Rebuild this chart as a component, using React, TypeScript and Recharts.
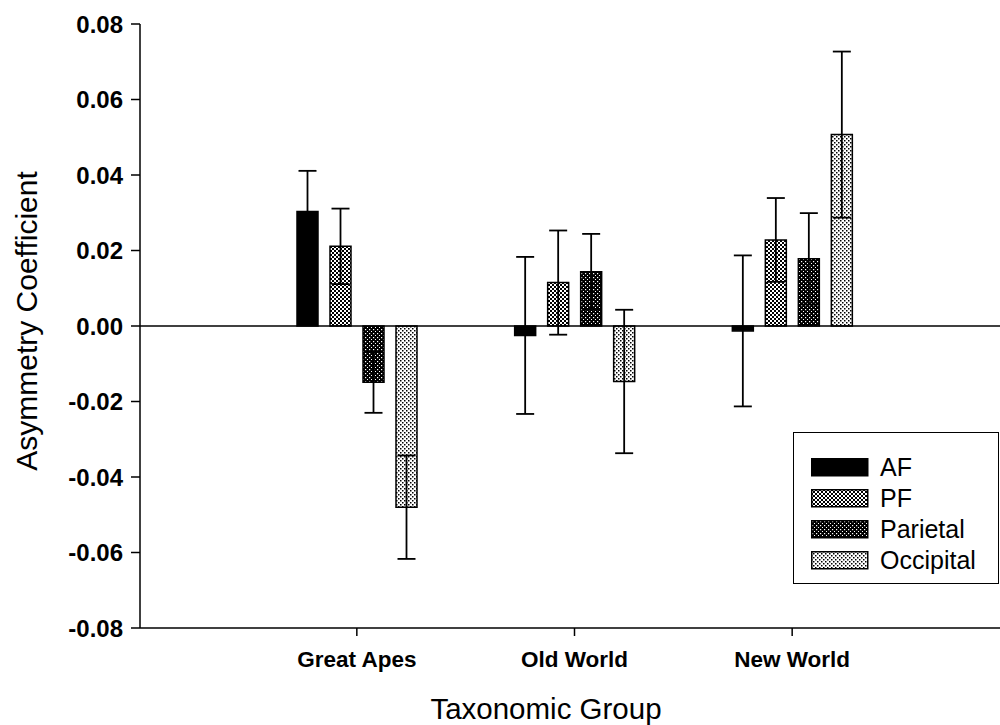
import React from 'react';
import { BarChart, Bar, XAxis, YAxis, ReferenceLine, ErrorBar } from 'recharts';

const groups = ['Great Apes', 'Old World', 'New World'];
const afMean = [0.0303, -0.0025, -0.0013];
const afErr = [0.0108, 0.0208, 0.02];
const pfMean = [0.0211, 0.0115, 0.0228];
const pfErr = [0.01, 0.0138, 0.0111];
const parMean = [-0.0149, 0.0144, 0.0178];
const parErr = [0.0081, 0.01, 0.0121];
const occMean = [-0.048, -0.0147, 0.0507];
const occErr = [0.0137, 0.019, 0.022];
const yTicks = [-0.08, -0.06, -0.04, -0.02, 0, 0.02, 0.04, 0.06, 0.08];

const seriesNames = ['AF', 'PF', 'Parietal', 'Occipital'];
const seriesFills = ['#000', 'url(#patPF)', 'url(#patPar)', 'url(#patOcc)'];

const data = groups.map((g, i) => ({
  group: g,
  AF: afMean[i],
  AFe: afErr[i],
  PF: pfMean[i],
  PFe: pfErr[i],
  Parietal: parMean[i],
  Parietale: parErr[i],
  Occipital: occMean[i],
  Occipitale: occErr[i],
}));

const FONT = '"Liberation Sans", Arial, sans-serif';

const Patterns = ({ suffix = '' }: { suffix?: string }) => (
  <defs>
    <pattern id={'patPF' + suffix} width="4" height="4" patternUnits="userSpaceOnUse">
      <rect width="4" height="4" fill="#fff" />
      <rect x="0" y="0" width="2" height="2" fill="#000" />
      <rect x="2" y="2" width="2" height="2" fill="#000" />
    </pattern>
    <pattern id={'patPar' + suffix} width="4" height="4" patternUnits="userSpaceOnUse">
      <rect width="4" height="4" fill="#000" />
      <rect x="1" y="1" width="1.2" height="1.2" fill="#fff" />
      <rect x="3" y="3" width="1" height="1" fill="#fff" />
    </pattern>
    <pattern id={'patOcc' + suffix} width="4" height="4" patternUnits="userSpaceOnUse">
      <rect width="4" height="4" fill="#fff" />
      <rect x="0" y="0" width="1.5" height="1.5" fill="#000" />
      <rect x="2" y="2" width="1.5" height="1.5" fill="#000" />
    </pattern>
  </defs>
);

const legendFills = ['#000', 'url(#patPFL)', 'url(#patParL)', 'url(#patOccL)'];

const LegendBox = () => (
  <div
    style={{
      position: 'absolute',
      left: 793,
      top: 432,
      width: 206,
      height: 152,
      border: '1.5px solid #000',
      boxSizing: 'border-box',
      background: '#fff',
      paddingTop: 19,
      paddingLeft: 17,
    }}
  >
    {seriesNames.map((n, i) => (
      <div key={n} style={{ display: 'flex', alignItems: 'center', height: 31 }}>
        <svg width={58} height={19} style={{ display: 'block' }}>
          <Patterns suffix="L" />
          <rect x={0.75} y={0.75} width={56} height={17} fill={legendFills[i]} stroke="#000" strokeWidth={1.5} />
        </svg>
        <span style={{ fontFamily: FONT, fontSize: 25, color: '#000', marginLeft: 11, lineHeight: '31px' }}>{n}</span>
      </div>
    ))}
  </div>
);

const YTitle = () => (
  <text
    x={26}
    y={321}
    transform="rotate(-90 26 321)"
    textAnchor="middle"
    dominantBaseline="central"
    fontFamily={FONT}
    fontSize={30}
    fill="#000"
  >
    Asymmetry Coefficient
  </text>
);

const XTitle = () => (
  <text x={546} y={719} textAnchor="middle" fontFamily={FONT} fontSize={29.5} fill="#000">
    Taxonomic Group
  </text>
);

export default function App() {
  return (
    <div
      style={{
        position: 'absolute',
        left: 0,
        top: 0,
        width: 1000,
        height: 725,
        overflow: 'hidden',
        background: '#fff',
      }}
    >
      <BarChart
        width={1012}
        height={725}
        data={data}
        margin={{ top: 24, right: 3, left: 0, bottom: 37 }}
        barGap={12}
        barSize={21}
      >
        <Patterns />
        <XAxis
          dataKey="group"
          type="category"
          padding={{ left: 108, right: 108 }}
          height={60}
          tickSize={8}
          tickMargin={15}
          axisLine={{ stroke: '#000', strokeWidth: 1.5 }}
          tickLine={{ stroke: '#000', strokeWidth: 1.5 }}
          tick={{ fontFamily: FONT, fontSize: 22.5, fontWeight: 'bold', fill: '#000' }}
          label={<XTitle />}
        />
        <YAxis
          width={140}
          domain={[-0.08, 0.08]}
          ticks={yTicks}
          tickFormatter={(v: number) => v.toFixed(2)}
          tickSize={9}
          tickMargin={8}
          axisLine={{ stroke: '#000', strokeWidth: 1.5 }}
          tickLine={{ stroke: '#000', strokeWidth: 1.5 }}
          tick={{ fontFamily: FONT, fontSize: 24, fontWeight: 'bold', fill: '#000' }}
          label={<YTitle />}
          allowDataOverflow
        />
        <ReferenceLine y={0} stroke="#000" strokeWidth={1.5} />
        {seriesNames.map((n, i) => (
          <Bar key={n} dataKey={n} fill={seriesFills[i]} stroke="#000" strokeWidth={1.5} isAnimationActive={false}>
            <ErrorBar dataKey={n + 'e'} width={9} stroke="#000" strokeWidth={1.8} direction="y" />
          </Bar>
        ))}
      </BarChart>
      <LegendBox />
    </div>
  );
}
